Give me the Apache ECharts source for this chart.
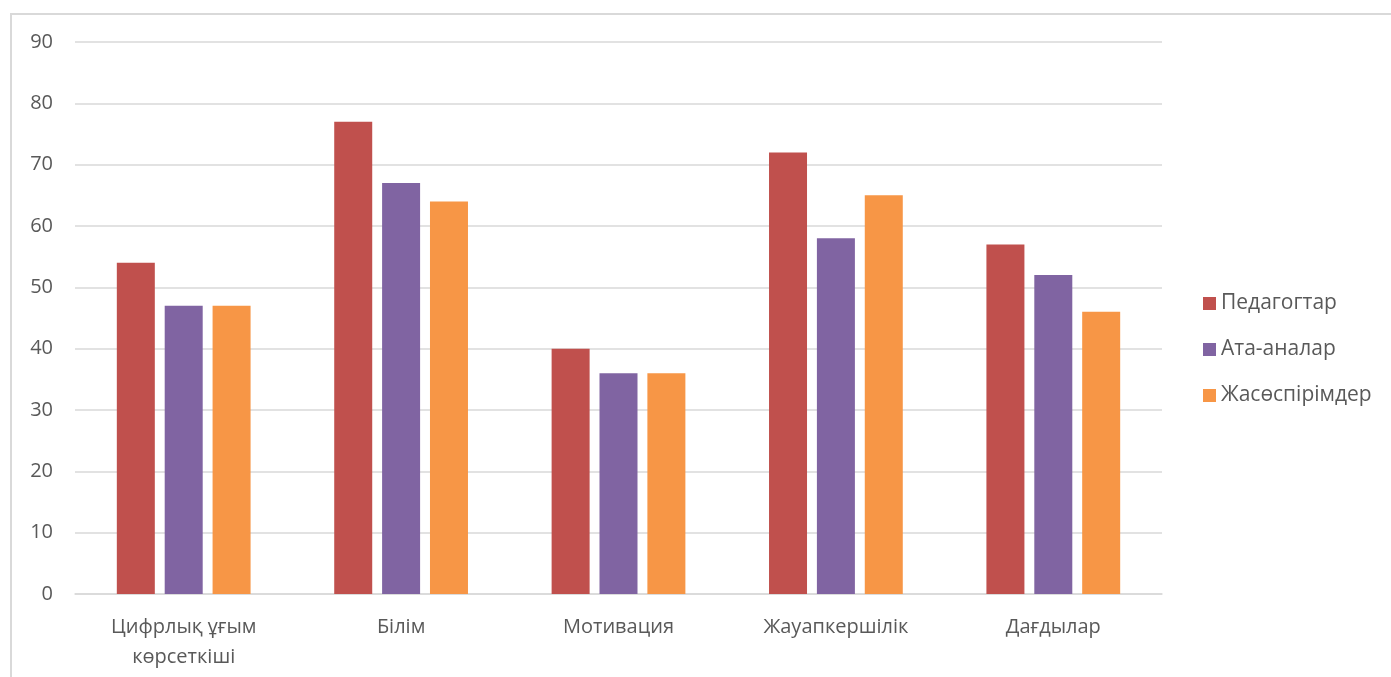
<!DOCTYPE html>
<html>
<head>
<meta charset="utf-8">
<script src="https://cdn.jsdelivr.net/npm/echarts@6/dist/echarts.min.js"></script>
<style>
  html, body { margin: 0; padding: 0; background: #fff; }
  #frame { position: absolute; left: 10px; top: 13px; width: 1400px; height: 700px;
           border-left: 2px solid #d9d9d9; border-top: 2px solid #d9d9d9; }
  #chart { position: absolute; left: 0; top: 0; width: 1391px; height: 677px; }
</style>
</head>
<body>
<div id="frame"></div>
<div id="chart"></div>
<script>
const categories = ['Цифрлық ұғым\nкөрсеткіші', 'Білім', 'Мотивация', 'Жауапкершілік', 'Дағдылар'];
const teachers = [54, 77, 40, 72, 57];
const parents = [47, 67, 36, 58, 52];
const teens = [47, 64, 36, 65, 46];
const seriesNames = ['Педагогтар', 'Ата-аналар', 'Жасөспірімдер'];
const colors = ['#C0504D', '#8064A2', '#F79646'];

const font = '"Open Sans", "Noto Sans", sans-serif';
const chart = echarts.init(document.getElementById('chart'), null, { renderer: 'canvas' });
const values = [teachers, parents, teens];

chart.setOption({
  backgroundColor: 'transparent',
  animation: false,
  textStyle: { fontFamily: font },
  grid: { left: 75, right: 229, top: 42, bottom: 83 },
  legend: {
    orient: 'vertical',
    left: 1198,
    top: 285,
    itemWidth: 13,
    itemHeight: 13,
    itemGap: 19,
    icon: 'rect',
    textStyle: { fontSize: 21, color: '#595959', fontFamily: font, lineHeight: 27 },
    data: seriesNames
  },
  xAxis: {
    type: 'category',
    data: categories,
    axisLine: { lineStyle: { color: '#d9d9d9', width: 1.5 } },
    axisTick: { show: false },
    axisLabel: { fontSize: 20, color: '#595959', margin: 18, lineHeight: 30, fontFamily: font }
  },
  yAxis: {
    type: 'value',
    min: 0,
    max: 90,
    interval: 10,
    axisLine: { show: false },
    axisTick: { show: false },
    splitLine: { lineStyle: { color: '#d9d9d9', width: 1.5 } },
    axisLabel: { fontSize: 20, color: '#595959', margin: 22, fontFamily: font }
  },
  series: seriesNames.map((name, i) => ({
    name: name,
    type: 'bar',
    data: values[i],
    barWidth: 38,
    barGap: '26%',
    itemStyle: { color: colors[i] }
  }))
});
</script>
</body>
</html>
